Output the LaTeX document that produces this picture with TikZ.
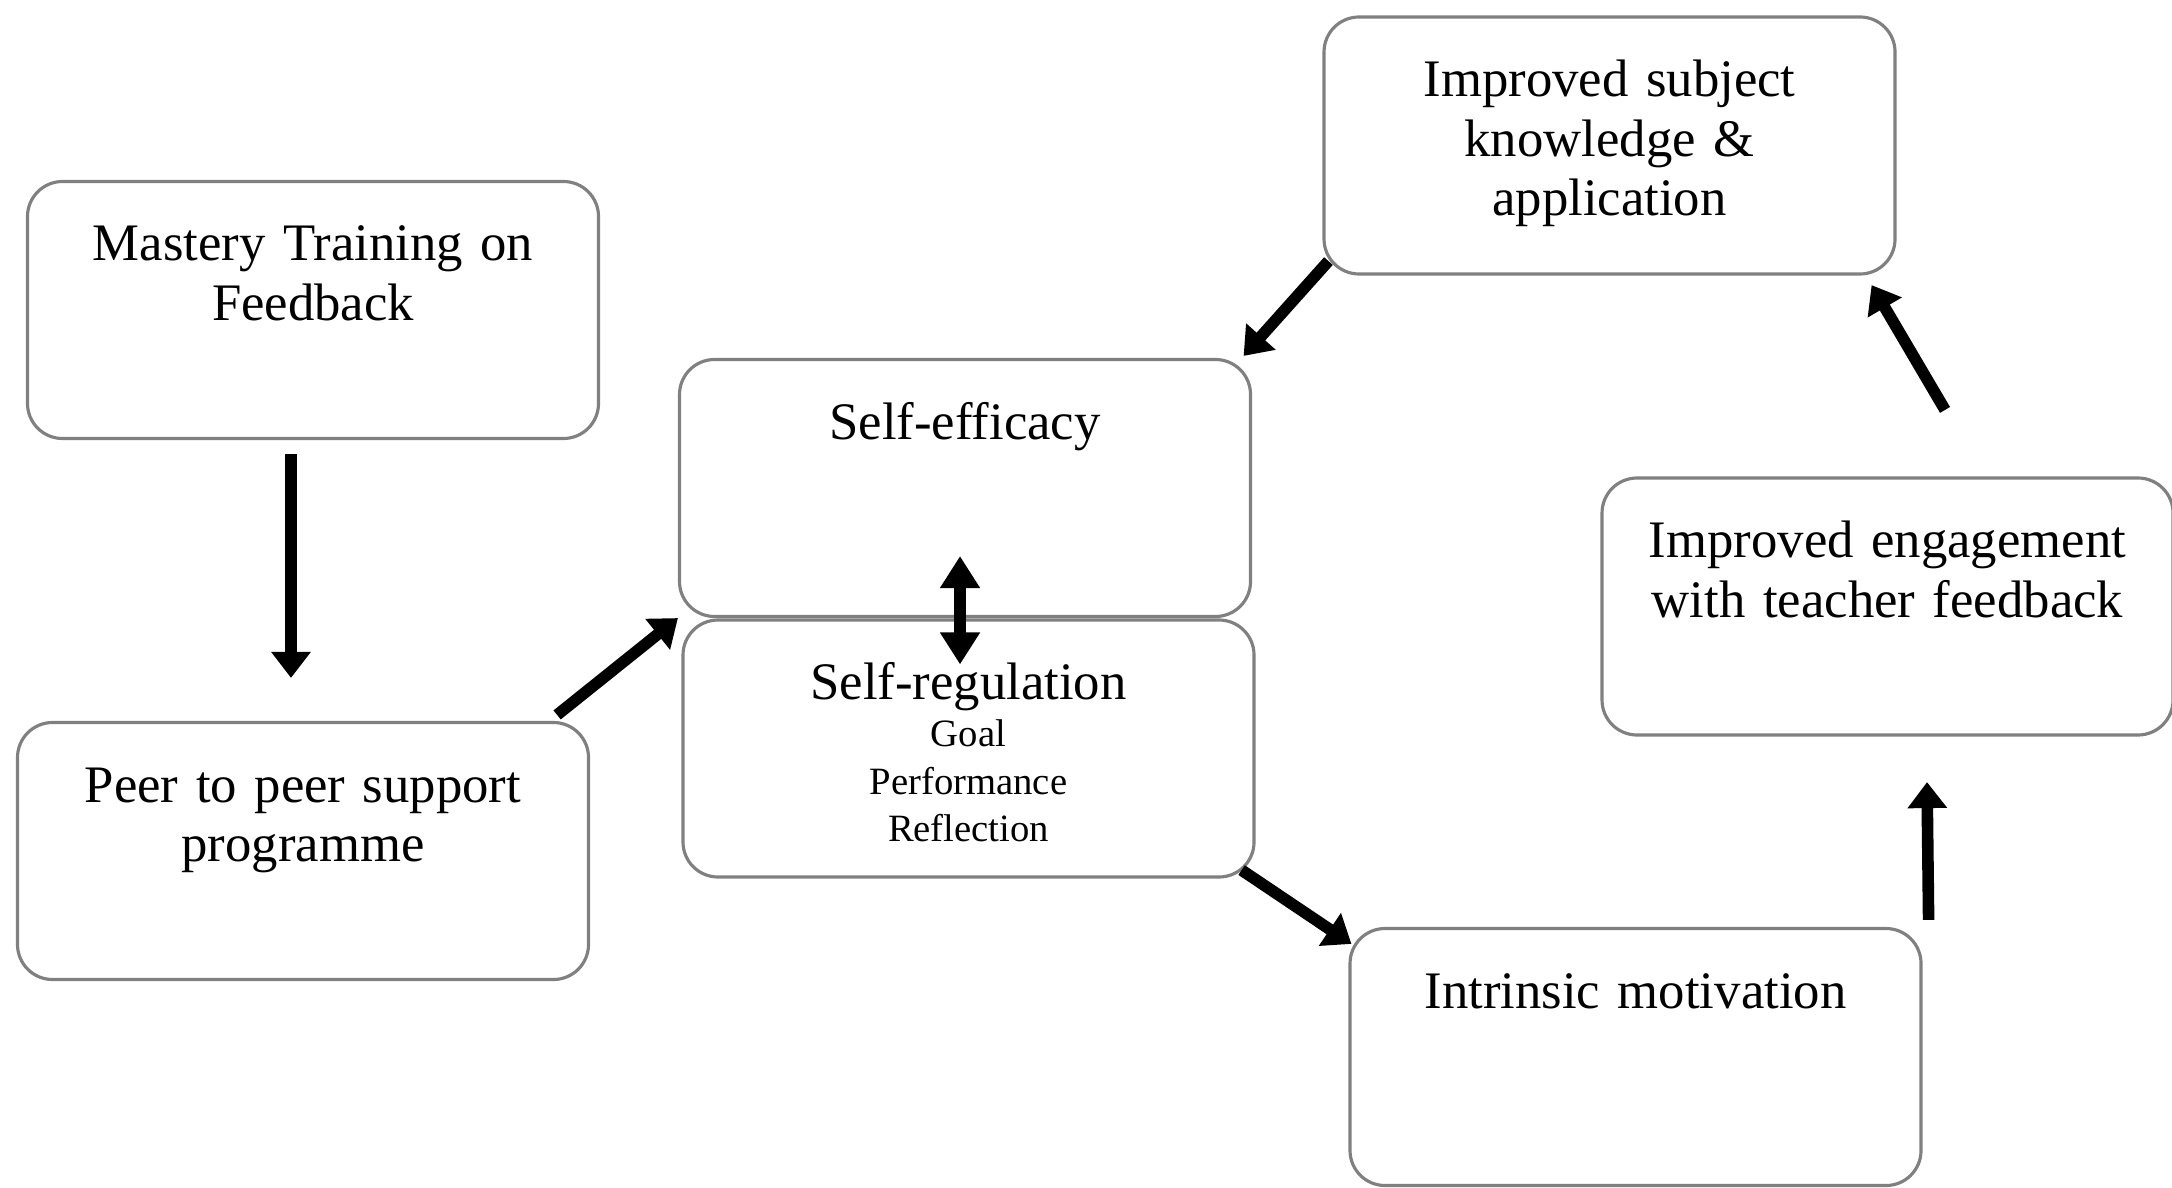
\documentclass[tikz,border=0pt]{standalone}
\usepackage{fontspec}
\setmainfont{Liberation Serif}
\usetikzlibrary{arrows.meta,positioning}
\definecolor{boxgray}{RGB}{128,128,128}

\begin{document}
\begin{tikzpicture}[node distance=2cm, thick,
    box/.style={draw=boxgray, line width=0.9pt, rectangle, rounded corners=3.5mm, inner sep=0pt,
      text width=5.71cm, align=center, text height=7.95mm, text depth=17.75mm,
      font=\fontsize{15}{17}\selectfont},
    link/.style={line width=3.3pt, -{Triangle[width=3.8mm,length=2.6mm]}},
    twolink/.style={line width=3.3pt, {Triangle[width=3.8mm,length=3.2mm]}-{Triangle[width=3.8mm,length=3.2mm]}}]
    \useasboundingbox (0,0) rectangle (21.72,-11.87);

    \node (mastery) [box] at (3.13,-3.10) {Mastery Training on\\Feedback};
    \node (peer) [box, below of=mastery, node distance=5.41cm, xshift=-0.1cm] {Peer to peer support\\programme};
    \node (eff) [box, right of=mastery, node distance=6.52cm, yshift=-1.78cm] {Self-efficacy};
    \node (reg) [box, below of=eff, node distance=2.605cm, xshift=0.035cm] {Self-regulation\\ \fontsize{11}{13.5}\selectfont Goal\\Performance\\Reflection\par};
    \node (subj) [box, right of=eff, node distance=6.445cm, yshift=3.425cm] {Improved subject\\knowledge \&\\application};
    \node (intr) [box, right of=reg, node distance=6.67cm, yshift=-3.085cm] {Intrinsic motivation};
    \node (eng) [box, above of=intr, node distance=4.505cm, xshift=2.52cm] {Improved engagement\\with teacher feedback};

    \draw[link] ([xshift=-0.22cm,yshift=-0.14cm]mastery.south) -- ([xshift=-0.12cm,yshift=0.43cm]peer.north);
    \draw[link] ([xshift=-0.33cm,yshift=0.06cm]peer.north east) -- (eff.south west);
    \draw[link] ([xshift=0.06cm,yshift=0.145cm]subj.south west) -- ([xshift=-0.085cm,yshift=0.02cm]eff.north east);
    \draw[twolink] ([xshift=-0.05cm,yshift=0.62cm]eff.south) -- ([xshift=-0.085cm,yshift=-0.46cm]reg.north);
    \draw[link] ([xshift=-0.14cm,yshift=0.085cm]reg.south east) -- ([xshift=0.03cm,yshift=-0.17cm]intr.north west);
    \draw[link] ([xshift=0.06cm,yshift=0.07cm]intr.north east) -- ([xshift=0.395cm,yshift=-0.455cm]eng.south);
    \draw[link] ([xshift=0.575cm,yshift=0.665cm]eng.north) -- ([xshift=-0.25cm,yshift=-0.095cm]subj.south east);
\end{tikzpicture}
\end{document}
